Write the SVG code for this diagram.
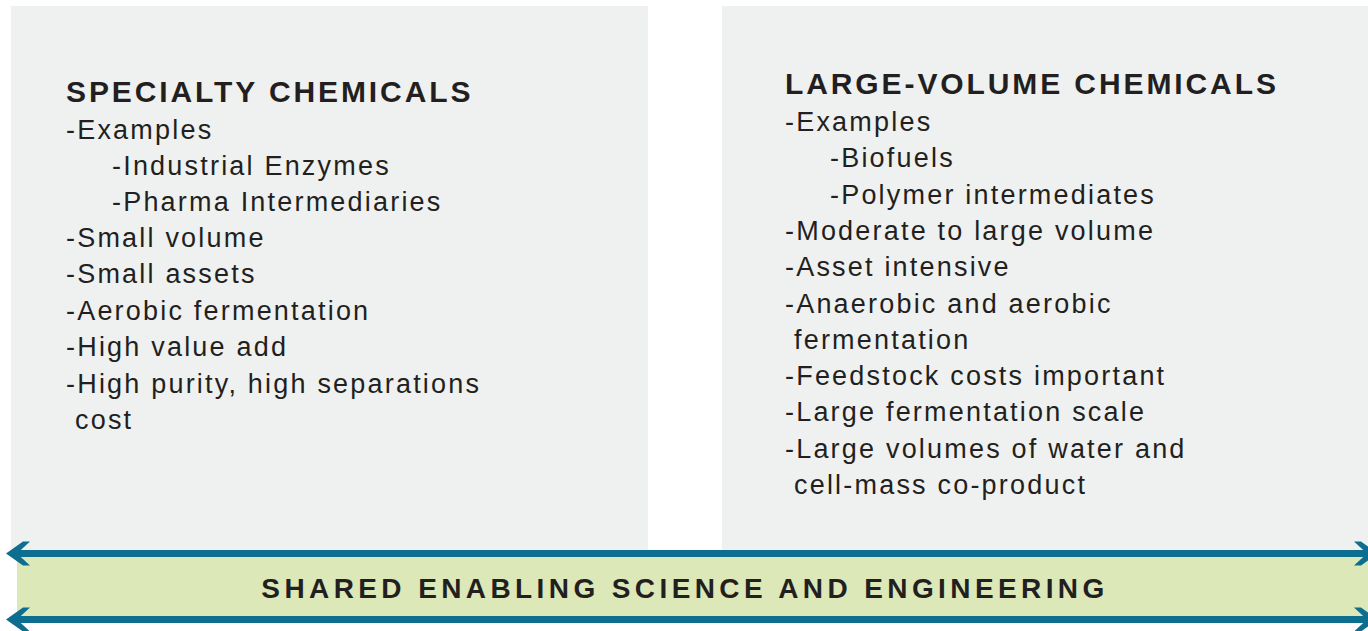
<svg xmlns="http://www.w3.org/2000/svg" width="1368" height="631" viewBox="0 0 1368 631">
<style>
.box{fill:#eff1f0}
.band{fill:#dce8b8}
.ar{fill:#0e6e8f}
.t{font-family:"Liberation Sans",Arial,sans-serif;fill:#231f20}
.h{font-size:30px;font-weight:bold;letter-spacing:2.9px}
.b{font-size:27px;letter-spacing:2.2px}
.s{font-size:28px;font-weight:bold;letter-spacing:4.4px}
</style>
<defs>
<polygon id="headL" points="0,0 17,-12 24,-12 11,0 24,12 17,12"/>
</defs>
<rect width="1368" height="631" fill="#ffffff"/>
<g id="specialty">
<rect class="box" x="11" y="6" width="637" height="548"/>
<text class="t h" x="66" y="102">SPECIALTY CHEMICALS</text>
<text class="t b">
<tspan x="66" y="139">-Examples</tspan>
<tspan x="112" y="175">-Industrial Enzymes</tspan>
<tspan x="112" y="211">-Pharma Intermediaries</tspan>
<tspan x="66" y="247">-Small volume</tspan>
<tspan x="66" y="283">-Small assets</tspan>
<tspan x="66" y="320">-Aerobic fermentation</tspan>
<tspan x="66" y="356">-High value add</tspan>
<tspan x="66" y="393">-High purity, high separations</tspan>
<tspan x="75" y="429">cost</tspan>
</text>
</g>
<g id="large-volume">
<rect class="box" x="722" y="6" width="646" height="548"/>
<text class="t h" x="785" y="94">LARGE-VOLUME CHEMICALS</text>
<text class="t b">
<tspan x="785" y="131">-Examples</tspan>
<tspan x="830" y="167">-Biofuels</tspan>
<tspan x="830" y="204">-Polymer intermediates</tspan>
<tspan x="785" y="240">-Moderate to large volume</tspan>
<tspan x="785" y="276">-Asset intensive</tspan>
<tspan x="785" y="313">-Anaerobic and aerobic</tspan>
<tspan x="794" y="349">fermentation</tspan>
<tspan x="785" y="385">-Feedstock costs important</tspan>
<tspan x="785" y="421">-Large fermentation scale</tspan>
<tspan x="785" y="458">-Large volumes of water and</tspan>
<tspan x="794" y="494">cell-mass co-product</tspan>
</text>
</g>
<g id="shared">
<rect class="band" x="17" y="557" width="1351" height="59"/>
<text class="t s" x="685" y="598" text-anchor="middle">SHARED ENABLING SCIENCE AND ENGINEERING</text>
</g>
<g id="connectors">
<rect class="ar" x="12" y="550" width="1356" height="7"/>
<use href="#headL" x="6" y="553.5" class="ar"/>
<use href="#headL" x="1378" y="553.5" class="ar" transform="translate(2756,0) scale(-1,1)"/>
<rect class="ar" x="12" y="616" width="1356" height="7"/>
<use href="#headL" x="6" y="619.5" class="ar"/>
<use href="#headL" x="1378" y="619.5" class="ar" transform="translate(2756,0) scale(-1,1)"/>
</g>
</svg>
